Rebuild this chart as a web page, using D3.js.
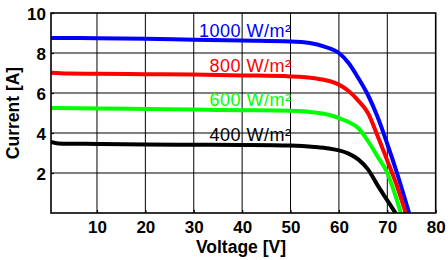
<!DOCTYPE html>
<html><head><meta charset="utf-8">
<script src="https://cdn.jsdelivr.net/npm/d3@7"></script>
<style>
html,body{margin:0;padding:0;background:#fff;}
svg{display:block;font-family:"Liberation Sans",Arial,sans-serif;}
</style></head>
<body><svg id="c" width="448" height="260"></svg>
<script>
// ---- data ----
const xTicks = [10, 20, 30, 40, 50, 60, 70, 80];
const yTicks = [2, 4, 6, 8, 10];
const seriesNames = ["1000 W/m²", "800 W/m²", "600 W/m²", "400 W/m²"];
const seriesColors = ["#0000ff", "#ff0000", "#00ff00", "#000000"];
const volts1000 = [0.5, 10, 20, 30, 40, 50, 54, 57, 60, 62, 64, 66, 68, 70, 72, 74.5];
const amps1000  = [8.75, 8.74, 8.71, 8.66, 8.62, 8.58, 8.5, 8.32, 8.0, 7.5, 6.75, 5.9, 4.8, 3.45, 2.0, 0];
const volts800 = [0.5, 4, 10, 20, 30, 40, 50, 55, 58, 60, 62, 64, 66, 68, 70, 72, 73.8];
const amps800  = [7.01, 6.97, 6.96, 6.94, 6.92, 6.88, 6.83, 6.74, 6.6, 6.42, 6.1, 5.62, 5.0, 3.85, 2.62, 1.35, 0];
const volts600 = [0.5, 10, 20, 30, 40, 50, 55, 58, 60, 62, 64, 66, 68, 70, 71.5, 72.8];
const amps600  = [5.25, 5.23, 5.2, 5.17, 5.14, 5.11, 5.02, 4.9, 4.75, 4.55, 4.25, 3.6, 2.82, 2.0, 1.0, 0];
const volts400 = [0.5, 2, 10, 20, 30, 40, 50, 55, 58, 60, 62, 64, 66, 68, 70, 71.7];
const amps400  = [3.55, 3.48, 3.45, 3.42, 3.41, 3.4, 3.37, 3.3, 3.22, 3.13, 2.97, 2.68, 2.18, 1.38, 0.63, 0];
const labelVolt = 50.2;   // where labels end (right-aligned)

const series = [
  {v: volts1000, a: amps1000},
  {v: volts800, a: amps800},
  {v: volts600, a: amps600},
  {v: volts400, a: amps400}
];

// ---- layout ----
const svg = d3.select("#c");
const L = 51, R = 435.7, T = 13, B = 213;
const x = d3.scaleLinear().domain([0.5, 80]).range([L, R]);
const y = d3.scaleLinear().domain([0, 10]).range([B, T]);

// grid
const grid = svg.append("g");
grid.selectAll("line.vx").data(xTicks.slice(0, -1)).join("line")
  .attr("x1", d => x(d)).attr("x2", d => x(d)).attr("y1", T).attr("y2", B)
  .attr("stroke", "#000").attr("stroke-width", 1);
grid.selectAll("line.hy").data(yTicks.slice(0, -1)).join("line")
  .attr("x1", L).attr("x2", R).attr("y1", d => y(d)).attr("y2", d => y(d))
  .attr("stroke", "#000").attr("stroke-width", 1);

// axes (labels + small inward ticks)
const xAxis = svg.append("g").attr("transform", `translate(0,${B})`)
  .call(d3.axisBottom(x).tickValues(xTicks).tickSize(-3).tickPadding(6).tickFormat(d3.format("d")));
const yAxis = svg.append("g").attr("transform", `translate(${L},0)`)
  .call(d3.axisLeft(y).tickValues(yTicks).tickSize(-3).tickPadding(5).tickFormat(d3.format("d")));
[xAxis, yAxis].forEach(g => {
  g.select(".domain").remove();
  g.selectAll(".tick line").attr("stroke", "#000").attr("stroke-width", 1.2);
  g.selectAll("text").attr("font-size", 17).attr("font-weight", "bold")
    .attr("fill", "#000").attr("font-family", "Liberation Sans, Arial, sans-serif");
});
xAxis.selectAll(".tick text").attr("dy", "0.8em");
yAxis.selectAll(".tick text").attr("dy", "0.36em");

// curves
svg.append("clipPath").attr("id", "clip").append("rect")
  .attr("x", L).attr("y", T).attr("width", R - L).attr("height", B - T);
const line = d3.line().x(d => x(d[0])).y(d => y(d[1])).curve(d3.curveMonotoneX);
const curves = svg.append("g").attr("clip-path", "url(#clip)");
series.forEach((s, i) => {
  curves.append("path").datum(s.v.map((v, k) => [v, s.a[k]]))
    .attr("d", line).attr("fill", "none")
    .attr("stroke", seriesColors[i]).attr("stroke-width", 4)
    .attr("stroke-linejoin", "round");
});

// frame
svg.append("rect").attr("x", L).attr("y", T).attr("width", R - L).attr("height", B - T)
  .attr("fill", "none").attr("stroke", "#000").attr("stroke-width", 1.6);

// series labels
series.forEach((s, i) => {
  const aAt = d3.scaleLinear().domain(s.v).range(s.a)(labelVolt);
  svg.append("text").attr("x", x(labelVolt)).attr("y", y(aAt) - 4.5)
    .attr("text-anchor", "end").attr("font-size", 18)
    .attr("letter-spacing", "0.5px")
    .attr("fill", seriesColors[i]).text(seriesNames[i]);
});

// axis titles
svg.append("text").attr("x", 241).attr("y", 252.5).attr("text-anchor", "middle")
  .attr("font-size", 17.5).attr("font-weight", "bold").text("Voltage [V]");
svg.append("text").attr("transform", "translate(19,113) rotate(-90)").attr("text-anchor", "middle")
  .attr("font-size", 17.5).attr("font-weight", "bold").text("Current [A]");
</script></body></html>
